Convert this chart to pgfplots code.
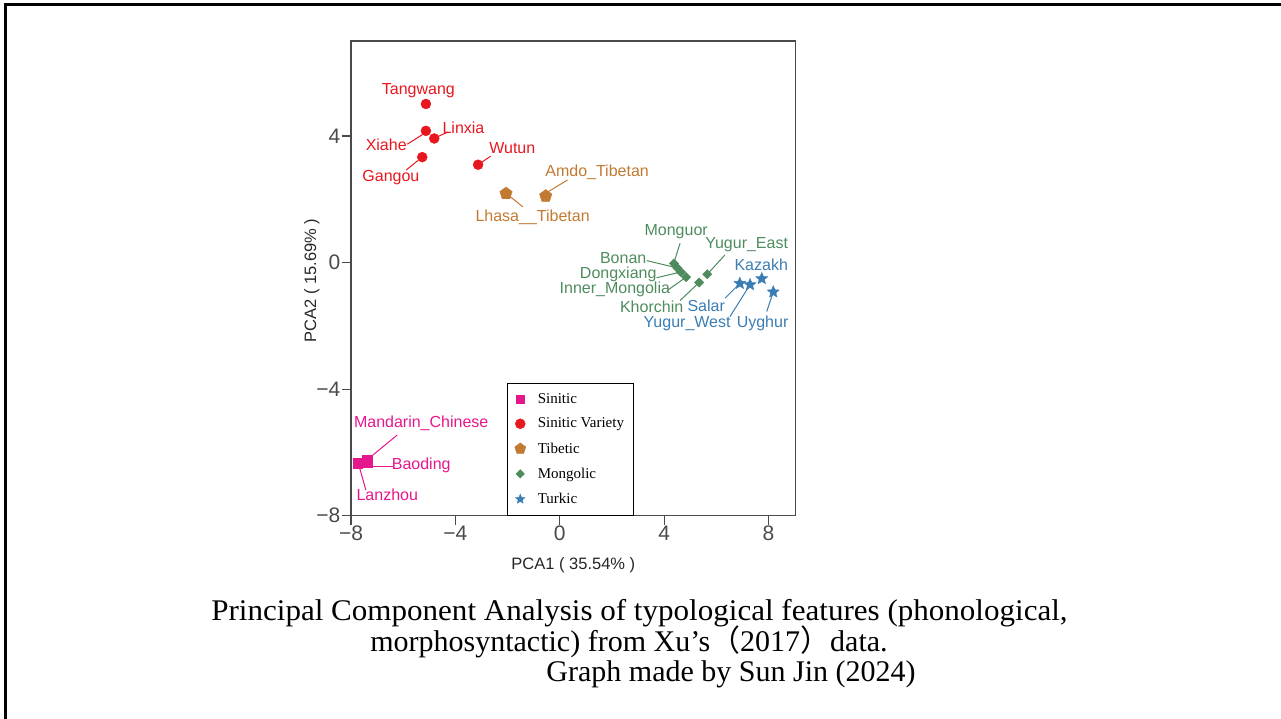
\documentclass[border=0pt]{standalone}
\usepackage{fontspec}
\setmainfont{Liberation Serif}
\setsansfont{Liberation Sans}
\newfontfamily\arial{Liberation Sans}
\newfontfamily\cjk{Noto Sans CJK SC}
\usepackage{pgfplots}
\pgfplotsset{compat=1.18}
\usetikzlibrary{plotmarks}

\definecolor{cSin}{HTML}{E6168C}
\definecolor{cVar}{HTML}{E8161E}
\definecolor{cTib}{HTML}{C27A32}
\definecolor{cMon}{HTML}{4E8C5E}
\definecolor{cTur}{HTML}{3A7DB4}
\definecolor{axgray}{HTML}{4A4A4A}

\pgfdeclareplotmark{fstar}{%
  \pgfpathmoveto{\pgfpointpolar{90}{\pgfplotmarksize}}%
  \pgfpathlineto{\pgfpointpolar{126}{0.45*\pgfplotmarksize}}%
  \pgfpathlineto{\pgfpointpolar{162}{\pgfplotmarksize}}%
  \pgfpathlineto{\pgfpointpolar{198}{0.45*\pgfplotmarksize}}%
  \pgfpathlineto{\pgfpointpolar{234}{\pgfplotmarksize}}%
  \pgfpathlineto{\pgfpointpolar{270}{0.45*\pgfplotmarksize}}%
  \pgfpathlineto{\pgfpointpolar{306}{\pgfplotmarksize}}%
  \pgfpathlineto{\pgfpointpolar{342}{0.45*\pgfplotmarksize}}%
  \pgfpathlineto{\pgfpointpolar{18}{\pgfplotmarksize}}%
  \pgfpathlineto{\pgfpointpolar{54}{0.45*\pgfplotmarksize}}%
  \pgfpathclose
  \pgfusepathqfillstroke
}

\pgfplotstableread{
x y
-7.75 -6.34
-7.39 -6.24
-7.36 -6.30
}\sinitic
\pgfplotstableread{
x y
-5.13 5.01
-5.13 4.16
-4.81 3.92
-5.27 3.33
-3.13 3.09
}\variety
\pgfplotstableread{
x y
-2.06 2.18
-0.54 2.10
}\tibetic
\pgfplotstableread{
x y
4.375 -0.03
4.50 -0.17
4.64 -0.30
4.84 -0.46
5.34 -0.63
5.65 -0.37
}\mongolic
\pgfplotstableread{
x y
6.90 -0.66
7.29 -0.70
7.74 -0.51
8.18 -0.93
}\turkic

\begin{document}
\begin{tikzpicture}[x=1pt,y=1pt]
\useasboundingbox (0,-719) rectangle (1281,0);
\draw[line width=3pt, black] (5.5,-719) -- (5.5,-4.5) -- (1281,-4.5);
\begin{axis}[
  at={(351pt,-515.7pt)}, anchor=south west,
  scale only axis, width=444.7pt, height=474.7pt,
  xmin=-8, xmax=9.04, ymin=-8, ymax=7,
  xtick={-8,-4,0,4,8}, xticklabels={−8,−4,0,4,8},
  ytick={-8,-4,0,4}, yticklabels={−8,−4,0,4},
  xtick pos=bottom, ytick pos=left, tick align=outside, major tick length=9pt,
  axis line style={draw=axgray, line width=1.2pt},
  tick style={draw=axgray, line width=1.2pt},
  ticklabel style={font=\arial\fontsize{21}{25}\selectfont, text=axgray},
  xticklabel style={inner sep=1pt},
  yticklabel style={inner sep=1.5pt},
  xlabel={PCA1 ( 35.54\% )}, ylabel={PCA2 ( 15.69\% )},
  label style={font=\arial\fontsize{16.5}{19}\selectfont, text=black!85},
  xlabel style={at={(axis description cs:0.5,0)}, anchor=center, yshift=-50pt},
  ylabel style={at={(axis description cs:-0.088,0.495)}, anchor=center},
  clip=false,
  legend cell align=left,
  legend style={at={(rel axis cs:0.35,0)}, anchor=south west, draw=black, line width=1.2pt,
    fill=white, font=\fontsize{15}{17}\selectfont, row sep=9.3pt, inner xsep=7.5pt, inner ysep=8pt,
    /tikz/every odd column/.append style={column sep=10pt}},
]
% leader lines
\begin{scope}[line width=1pt]
\draw[cVar] (axis cs:-5.84,3.74) -- (axis cs:-5.23,4.06);
\draw[cVar] (axis cs:-4.75,3.95) -- (axis cs:-4.30,4.12);
\draw[cVar] (axis cs:-5.89,2.92) -- (axis cs:-5.44,3.22);
\draw[cVar] (axis cs:-3.13,3.09) -- (axis cs:-2.65,3.36);
\draw[cTib] (axis cs:0.30,2.61) -- (axis cs:-0.54,2.19);
\draw[cTib] (axis cs:-2.06,2.19) -- (axis cs:-1.42,1.76);
\draw[cMon] (axis cs:4.61,0.61) -- (axis cs:4.375,0.0);
\draw[cMon] (axis cs:6.33,0.24) -- (axis cs:5.65,-0.37);
\draw[cMon] (axis cs:3.33,0.06) -- (axis cs:4.50,-0.17);
\draw[cMon] (axis cs:3.71,-0.48) -- (axis cs:4.64,-0.30);
\draw[cMon] (axis cs:4.16,-0.86) -- (axis cs:4.84,-0.46);
\draw[cMon] (axis cs:4.61,-1.20) -- (axis cs:5.34,-0.63);
\draw[cTur] (axis cs:6.33,-1.13) -- (axis cs:6.90,-0.66);
\draw[cTur] (axis cs:6.52,-1.71) -- (axis cs:7.29,-0.70);
\draw[cTur] (axis cs:7.93,-1.55) -- (axis cs:8.18,-0.93);
\draw[cSin] (axis cs:-6.23,-5.45) -- (axis cs:-7.39,-6.24);
\draw[cSin] (axis cs:-7.36,-6.43) -- (axis cs:-6.40,-6.43);
\draw[cSin] (axis cs:-7.70,-6.40) -- (axis cs:-7.43,-7.19);
\end{scope}

\addplot[only marks, mark=square*, color=cSin, mark size=4.8pt, forget plot] table {\sinitic};
\addplot[only marks, mark=*, color=cVar, mark size=5pt, forget plot] table {\variety};
\addplot[only marks, mark=pentagon*, color=cTib, mark size=6.5pt, forget plot] table {\tibetic};
\addplot[only marks, mark=square*, color=cMon, mark size=3.3pt, mark options={rotate=45}, forget plot] table {\mongolic};
\addplot[only marks, mark=fstar, color=cTur, mark size=6.3pt, forget plot] table {\turkic};

\addlegendimage{only marks, mark=square*, color=cSin, mark size=4.3pt, mark options={line width=0.4pt}}
\addlegendentry{Sinitic}
\addlegendimage{only marks, mark=*, color=cVar, mark size=5pt, mark options={line width=0.4pt}}
\addlegendentry{Sinitic Variety}
\addlegendimage{only marks, mark=pentagon*, color=cTib, mark size=5.8pt, mark options={line width=0.4pt}}
\addlegendentry{Tibetic}
\addlegendimage{only marks, mark=square*, color=cMon, mark size=3pt, mark options={rotate=45, line width=0.4pt}}
\addlegendentry{Mongolic}
\addlegendimage{only marks, mark=fstar, color=cTur, mark size=5pt, mark options={line width=0.4pt}}
\addlegendentry{Turkic}

% point labels
\begin{scope}[every node/.style={font=\arial\fontsize{16}{19}\selectfont, inner sep=0pt}]
\node[text=cVar] at (axis cs:-5.42,5.42) {Tangwang};
\node[text=cVar] at (axis cs:-6.65,3.73) {Xiahe};
\node[text=cVar] at (axis cs:-3.69,4.27) {Linxia};
\node[text=cVar] at (axis cs:-6.47,2.68) {Gangou};
\node[text=cVar] at (axis cs:-1.82,3.61) {Wutun};
\node[text=cTib] at (axis cs:1.43,2.84) {Amdo\_Tibetan};
\node[text=cTib] at (axis cs:-1.04,1.43) {Lhasa\_\_Tibetan};
\node[text=cMon] at (axis cs:4.46,0.97) {Monguor};
\node[text=cMon] at (axis cs:7.16,0.55) {Yugur\_East};
\node[text=cMon] at (axis cs:2.43,0.15) {Bonan};
\node[text=cMon] at (axis cs:2.24,-0.37) {Dongxiang};
\node[text=cMon] at (axis cs:2.11,-0.86) {Inner\_Mongolia};
\node[text=cMon] at (axis cs:3.52,-1.39) {Khorchin};
\node[text=cTur] at (axis cs:7.72,-0.08) {Kazakh};
\node[text=cTur] at (axis cs:5.61,-1.37) {Salar};
\node[text=cTur] at (axis cs:4.88,-1.94) {Yugur\_West};
\node[text=cTur] at (axis cs:7.77,-1.92) {Uyghur};
\node[text=cSin] at (axis cs:-5.31,-5.08) {Mandarin\_Chinese};
\node[text=cSin] at (axis cs:-5.31,-6.40) {Baoding};
\node[text=cSin] at (axis cs:-6.61,-7.35) {Lanzhou};
\end{scope}
\end{axis}
\begin{scope}[every node/.style={font=\fontsize{30}{30}\selectfont, anchor=base, inner sep=0pt}]
\node[xscale=1.035] at (639.5,-620) {Principal Component Analysis of typological features (phonological,};
\node at (629,-651) {morphosyntactic) from Xu’s{\cjk （}2017{\cjk ）}data.};
\node at (731,-681) {Graph made by Sun Jin (2024)};
\end{scope}
\end{tikzpicture}
\end{document}
